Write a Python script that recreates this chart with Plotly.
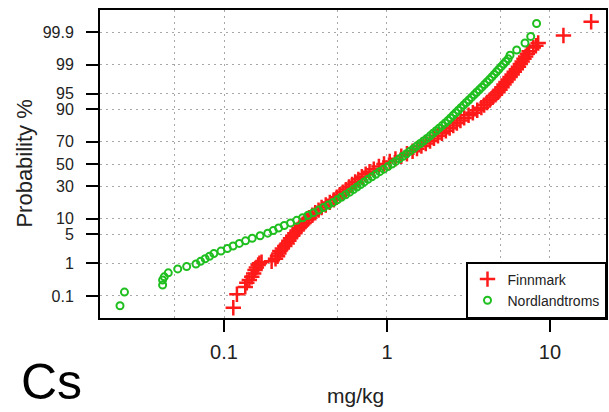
import plotly.graph_objects as go
from statistics import NormalDist

# ---------------- data ----------------
prob_ticks = [0.1, 1, 5, 10, 30, 50, 70, 90, 95, 99, 99.9]
prob_tick_labels = ["0.1", "1", "5", "10", "30", "50", "70", "90", "95", "99", "99.9"]
x_ticks = [0.1, 1, 10]
x_tick_labels = ["0.1", "1", "10"]
x_minor_grid = [0.05, 0.5, 5]

finnmark_mgkg = [
    0.114, 0.120, 0.135, 0.138, 0.143, 0.148, 0.152, 0.155, 0.158, 0.162, 0.165, 0.170,
    0.196, 0.207, 0.213, 0.217, 0.220, 0.228, 0.236, 0.244, 0.250, 0.256, 0.264, 0.272,
    0.281, 0.289, 0.299, 0.310, 0.321, 0.333, 0.348, 0.363, 0.380, 0.397, 0.421, 0.446,
    0.472, 0.492, 0.514, 0.536, 0.560, 0.585, 0.611, 0.638, 0.667, 0.701, 0.740, 0.782,
    0.830, 0.892, 0.959, 1.040, 1.127, 1.224, 1.326, 1.436, 1.528, 1.626, 1.730, 1.838,
    1.942, 2.056, 2.175, 2.298, 2.425, 2.551, 2.685, 2.824, 2.976, 3.168, 3.365, 3.581,
    3.794, 3.947, 4.112, 4.279, 4.451, 4.630, 4.797, 4.935, 5.077, 5.223, 5.372, 5.533,
    5.692, 5.864, 6.039, 6.220, 6.408, 6.583, 6.752, 6.926, 7.094, 7.266, 7.454,
    7.9, 8.2, 8.47, 12.1, 17.9,
]
finnmark_prob = [
    0.038, 0.114, 0.20, 0.27, 0.33, 0.41, 0.52, 0.65, 0.77, 0.90, 1.00, 1.08,
    1.13, 1.32, 1.54, 1.79, 2.07, 2.39, 2.74, 3.14, 3.59, 4.09, 4.65, 5.26,
    5.94, 6.68, 7.49, 8.38, 9.34, 10.38, 11.51, 12.71, 14.01, 15.39, 16.85, 18.41,
    20.05, 21.77, 23.58, 25.46, 27.43, 29.46, 31.56, 33.72, 35.94, 38.21, 40.52, 42.86,
    45.22, 47.61, 50.0, 52.39, 54.78, 57.14, 59.48, 61.79, 64.06, 66.28, 68.44, 70.54,
    72.57, 74.54, 76.42, 78.23, 79.95, 81.59, 83.15, 84.61, 85.99, 87.29, 88.49, 89.62,
    90.66, 91.62, 92.51, 93.32, 94.06, 94.74, 95.35, 95.91, 96.41, 96.86, 97.26, 97.61,
    97.93, 98.21, 98.46, 98.68, 98.87, 99.04, 99.18, 99.31, 99.41, 99.51, 99.59,
    99.68, 99.72, 99.77, 99.87, 99.957,
]

nordlandtroms_mgkg = [
    0.023, 0.0245, 0.042, 0.042, 0.043, 0.0455, 0.052, 0.059,
    0.0673, 0.0718, 0.0766, 0.0815, 0.0866, 0.0958, 0.1048, 0.1136, 0.1241, 0.1355,
    0.1489, 0.1665, 0.1854, 0.2004, 0.2163, 0.2341, 0.2559, 0.2793, 0.3035, 0.3276,
    0.3536, 0.3811, 0.4077, 0.4364, 0.467, 0.4955, 0.525, 0.557, 0.5905, 0.622,
    0.6546, 0.6887, 0.7256, 0.7645, 0.808, 0.854, 0.902, 0.956, 1.013, 1.073,
    1.131, 1.190, 1.252, 1.317, 1.384, 1.454, 1.523, 1.599, 1.675, 1.757,
    1.841, 1.920, 2.004, 2.090, 2.182, 2.276, 2.371, 2.456, 2.547, 2.643,
    2.742, 2.844, 2.951, 3.066, 3.181, 3.299, 3.422, 3.550, 3.684, 3.821,
    3.958, 4.107, 4.255, 4.402, 4.547, 4.704, 4.859, 5.018, 5.191, 5.363, 5.541,
    5.69, 6.25, 7.03, 7.62, 8.28,
]
nordlandtroms_prob = [
    0.045, 0.135, 0.23, 0.33, 0.41, 0.54, 0.70, 0.82,
    0.96, 1.13, 1.32, 1.54, 1.79, 2.07, 2.39, 2.74, 3.14, 3.59,
    4.09, 4.65, 5.26, 5.94, 6.68, 7.49, 8.38, 9.34, 10.38, 11.51,
    12.71, 14.01, 15.39, 16.85, 18.41, 20.05, 21.77, 23.58, 25.46, 27.43,
    29.46, 31.56, 33.72, 35.94, 38.21, 40.52, 42.86, 45.22, 47.61, 50.0,
    52.39, 54.78, 57.14, 59.48, 61.79, 64.06, 66.28, 68.44, 70.54, 72.57,
    74.54, 76.42, 78.23, 79.95, 81.59, 83.15, 84.61, 85.99, 87.29, 88.49,
    89.62, 90.66, 91.62, 92.51, 93.32, 94.06, 94.74, 95.35, 95.91, 96.41,
    96.86, 97.26, 97.61, 97.93, 98.21, 98.46, 98.68, 98.87, 99.04, 99.18, 99.31,
    99.46, 99.62, 99.77, 99.86, 99.95,
]

# ---------------- figure ----------------
nd = NormalDist()


def to_z(probs):
    return [nd.inv_cdf(p / 100.0) for p in probs]


FONT = "Liberation Sans, Arial, Helvetica, sans-serif"
GRID = "#a8a8a8"
DASH = "2px,4px"

fig = go.Figure()
fig.add_trace(go.Scatter(
    x=finnmark_mgkg, y=to_z(finnmark_prob), mode="markers", name="Finnmark",
    marker=dict(symbol="cross-thin", size=11, color="#ff1a1a",
                line=dict(width=2.5, color="#ff1a1a")),
    cliponaxis=False,
))
fig.add_trace(go.Scatter(
    x=nordlandtroms_mgkg, y=to_z(nordlandtroms_prob), mode="markers", name="Nordlandtroms",
    marker=dict(symbol="circle-open", size=7, color="#1fbf1f",
                line=dict(width=2, color="#1fbf1f")),
    cliponaxis=False,
))

zmax = 3.607
fig.update_layout(
    width=609, height=412,
    margin=dict(l=100, r=3, t=10, b=94, pad=0, autoexpand=False),
    paper_bgcolor="white", plot_bgcolor="white",
    font=dict(family=FONT, color="#222222"),
    showlegend=True,
    legend=dict(x=1, y=0, xanchor="right", yanchor="bottom",
                bgcolor="white", bordercolor="black", borderwidth=1.5,
                font=dict(size=14, color="#222222"), itemwidth=30,
                tracegroupgap=0),
    xaxis=dict(
        type="log", range=[-1.761, 1.344], automargin=False,
        tickvals=x_ticks, ticktext=x_tick_labels,
        ticks="outside", ticklen=12, tickwidth=2, tickcolor="black",
        tickfont=dict(size=20, color="#222222"), ticklabelstandoff=3,
        showline=True, linewidth=2, linecolor="black", mirror=True,
        showgrid=True, gridcolor=GRID, griddash=DASH, gridwidth=1,
        minor=dict(tickvals=x_minor_grid, showgrid=True, gridcolor=GRID,
                   griddash=DASH, gridwidth=1, ticks=""),
        zeroline=False,
    ),
    yaxis=dict(
        range=[-zmax, zmax], automargin=False,
        tickvals=to_z(prob_ticks), ticktext=prob_tick_labels,
        ticks="outside", ticklen=12, tickwidth=2, tickcolor="black",
        tickfont=dict(size=16, color="#222222"), ticklabelstandoff=9,
        showline=True, linewidth=2, linecolor="black", mirror=True,
        showgrid=True, gridcolor=GRID, griddash=DASH, gridwidth=1,
        zeroline=False,
    ),
    annotations=[
        dict(text="mg/kg", xref="paper", yref="paper", x=0.505, y=-0.25,
             xanchor="center", yanchor="middle", showarrow=False,
             font=dict(size=21, color="#222222")),
        dict(text="Probability %", xref="paper", yref="paper", x=-0.151, y=0.5,
             xanchor="center", yanchor="middle", showarrow=False, textangle=-90,
             font=dict(size=22, color="#222222")),
        dict(text="Cs", xref="paper", yref="paper", x=-0.095, y=-0.208,
             xanchor="center", yanchor="middle", showarrow=False,
             font=dict(size=50, color="black")),
    ],
)

fig.write_html(
    "out.html",
    config={"displayModeBar": False},
    post_script="document.body.style.margin='0';document.body.style.padding='0';",
)
